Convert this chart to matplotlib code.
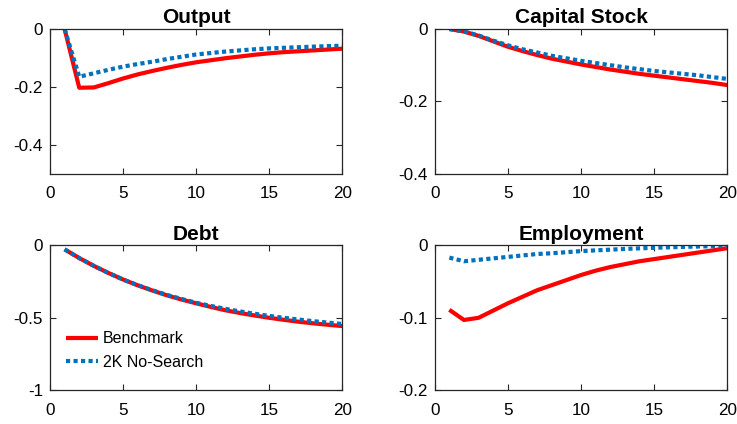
import matplotlib
matplotlib.use("Agg")
import matplotlib.pyplot as plt
from matplotlib.ticker import FixedLocator, FixedFormatter

plt.rcParams['font.family'] = ['Liberation Sans', 'DejaVu Sans']
plt.rcParams['axes.unicode_minus'] = False

periods = list(range(1, 21))

output_bench = [0, -0.203, -0.202, -0.187, -0.171, -0.157, -0.145, -0.134, -0.124, -0.115,
                -0.108, -0.101, -0.095, -0.089, -0.084, -0.080, -0.077, -0.074, -0.071, -0.068]
output_nosearch = [0, -0.165, -0.153, -0.141, -0.130, -0.121, -0.113, -0.104, -0.096, -0.088,
                   -0.083, -0.078, -0.074, -0.070, -0.067, -0.065, -0.063, -0.061, -0.059, -0.058]

capital_bench = [0, -0.007, -0.019, -0.034, -0.049, -0.061, -0.072, -0.082, -0.090, -0.098,
                 -0.105, -0.112, -0.118, -0.124, -0.129, -0.134, -0.139, -0.144, -0.149, -0.155]
capital_nosearch = [0, -0.007, -0.018, -0.032, -0.045, -0.056, -0.065, -0.074, -0.081, -0.088,
                    -0.094, -0.100, -0.106, -0.111, -0.116, -0.120, -0.124, -0.128, -0.133, -0.138]

debt_bench = [-0.028, -0.088, -0.142, -0.191, -0.236, -0.276, -0.312, -0.345, -0.374, -0.400,
              -0.425, -0.448, -0.467, -0.484, -0.500, -0.514, -0.527, -0.538, -0.548, -0.557]
debt_nosearch = [-0.028, -0.088, -0.142, -0.191, -0.236, -0.275, -0.310, -0.342, -0.370, -0.396,
                 -0.418, -0.438, -0.456, -0.472, -0.487, -0.500, -0.512, -0.523, -0.533, -0.543]

emp_bench = [-0.089, -0.103, -0.100, -0.090, -0.080, -0.071, -0.062, -0.055, -0.048, -0.041,
             -0.035, -0.030, -0.026, -0.022, -0.019, -0.016, -0.013, -0.010, -0.007, -0.004]
emp_nosearch = [-0.017, -0.022, -0.020, -0.018, -0.016, -0.014, -0.012, -0.011, -0.0095, -0.008,
                -0.007, -0.006, -0.005, -0.0042, -0.0035, -0.0028, -0.0022, -0.0017, -0.0012, -0.001]

titles = ["Output", "Capital Stock", "Debt", "Employment"]
series_bench = [output_bench, capital_bench, debt_bench, emp_bench]
series_nosearch = [output_nosearch, capital_nosearch, debt_nosearch, emp_nosearch]
ylims = [(-0.5, 0), (-0.4, 0), (-1, 0), (-0.2, 0)]
yticks = [[-0.4, -0.2, 0], [-0.4, -0.2, 0], [-1, -0.5, 0], [-0.2, -0.1, 0]]
yticklabels = [["-0.4", "-0.2", "0"], ["-0.4", "-0.2", "0"], ["-1", "-0.5", "0"], ["-0.2", "-0.1", "0"]]
xticks = [0, 5, 10, 15, 20]
xticklabels = ["0", "5", "10", "15", "20"]
legend_labels = ["Benchmark", "2K No-Search"]

W, H = 737, 424
fig = plt.figure(figsize=(W / 100, H / 100), dpi=100)

boxes = [
    (50, 29, 342.3, 173.7),
    (434.7, 29, 727.3, 173.7),
    (50, 245.3, 342.3, 390.3),
    (434.7, 245.3, 727.3, 390.3),
]

axcol = (0.15, 0.15, 0.15)
red = (1, 0, 0)
blue = "#0072BD"

for i, (x0, y0, x1, y1) in enumerate(boxes):
    ax = fig.add_axes([x0 / W, 1 - y1 / H, (x1 - x0) / W, (y1 - y0) / H])
    l1, = ax.plot(periods, series_bench[i], color=red, lw=3, solid_capstyle='butt')
    l2, = ax.plot(periods, series_nosearch[i], color=blue, lw=3,
                  linestyle=(0, (1, 0.8)), dash_capstyle='butt')
    ax.set_xlim(0, 20)
    ax.set_ylim(*ylims[i])
    ax.xaxis.set_major_locator(FixedLocator(xticks))
    ax.xaxis.set_major_formatter(FixedFormatter(xticklabels))
    ax.yaxis.set_major_locator(FixedLocator(yticks[i]))
    ax.yaxis.set_major_formatter(FixedFormatter(yticklabels[i]))
    ax.tick_params(direction='in', length=4, width=0.8, colors=axcol, labelsize=12.3,
                   top=True, right=True)
    ax.tick_params(axis='x', pad=9)
    ax.tick_params(axis='y', pad=5)
    ax.tick_params(labelcolor='black')
    for s in ax.spines.values():
        s.set_color(axcol)
        s.set_linewidth(0.9)
    ax.set_title(titles[i], fontsize=15, fontweight='bold', pad=4)
    if i == 2:
        ax.legend([l1, l2], legend_labels, loc='lower left', bbox_to_anchor=(0.0, 0.03),
                  frameon=False, fontsize=11.5, handlelength=2.0, handletextpad=0.3,
                  labelspacing=0.55, borderaxespad=0.6)

fig.savefig("out.png", dpi=100)
